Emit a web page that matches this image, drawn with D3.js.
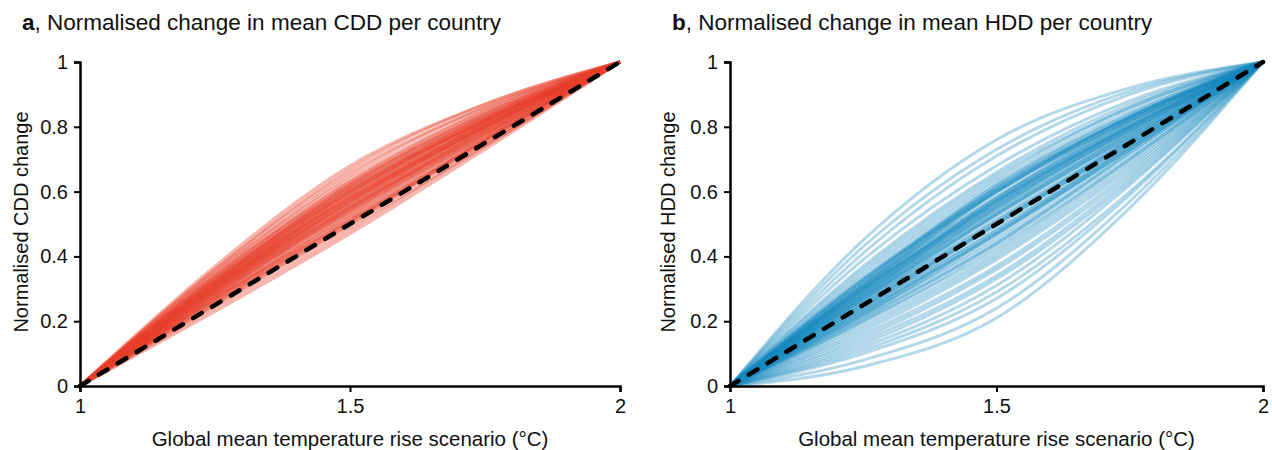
<!DOCTYPE html>
<html>
<head>
<meta charset="utf-8">
<script src="https://cdn.jsdelivr.net/npm/d3@7"></script>
<style>
  body { margin: 0; background: #fff; }
  svg text { font-family: "Liberation Sans", Arial, sans-serif; fill: #111; }
</style>
</head>
<body>
<div id="chart"></div>
<script>
// x positions (warming scenario, °C) at which each country curve is sampled
var scenarios = [1, 1.25, 1.5, 1.75, 2];
var xTicks = [1, 1.5, 2];
var yTicks = [0, 0.2, 0.4, 0.6, 0.8, 1];

// normalised CDD change per country at 1.25, 1.5, 1.75 °C (ends are always 0 and 1)
var cddCurves = [
  [0.23,0.47,0.73],[0.24,0.48,0.74],[0.25,0.49,0.74],[0.25,0.50,0.75],[0.26,0.51,0.76],
  [0.26,0.51,0.75],[0.27,0.52,0.77],[0.27,0.53,0.77],[0.28,0.54,0.78],[0.28,0.54,0.77],
  [0.29,0.55,0.79],[0.29,0.56,0.79],[0.30,0.56,0.80],[0.30,0.57,0.80],[0.30,0.57,0.81],
  [0.31,0.58,0.81],[0.31,0.58,0.80],[0.31,0.59,0.82],[0.32,0.59,0.82],[0.32,0.60,0.82],
  [0.32,0.60,0.83],[0.33,0.61,0.83],[0.33,0.61,0.82],[0.33,0.62,0.84],[0.34,0.62,0.84],
  [0.34,0.63,0.84],[0.34,0.63,0.85],[0.35,0.64,0.85],[0.35,0.65,0.86],[0.36,0.66,0.86],
  [0.36,0.67,0.87],[0.37,0.68,0.87],[0.29,0.55,0.78],[0.30,0.58,0.81],[0.31,0.57,0.80],
  [0.32,0.61,0.83],[0.28,0.53,0.78],[0.33,0.60,0.82],[0.27,0.51,0.76],[0.31,0.60,0.82],
  [0.30,0.55,0.79],[0.32,0.58,0.81],[0.29,0.57,0.80],[0.26,0.50,0.76],[0.30,0.59,0.81],
  [0.31,0.56,0.80],[0.28,0.55,0.78],[0.32,0.62,0.83],[0.29,0.54,0.79],[0.27,0.52,0.76]
];

// normalised HDD change per country at 1.25, 1.5, 1.75 °C
var hddCurves = [
  [0.45,0.76,0.92],[0.43,0.73,0.91],[0.41,0.71,0.90],[0.39,0.68,0.88],[0.37,0.66,0.87],
  [0.36,0.65,0.86],[0.35,0.64,0.86],[0.34,0.63,0.85],[0.33,0.62,0.84],[0.33,0.61,0.83],
  [0.32,0.61,0.83],[0.32,0.60,0.83],[0.31,0.60,0.82],[0.31,0.59,0.82],[0.31,0.58,0.81],
  [0.30,0.58,0.82],[0.30,0.57,0.81],[0.30,0.57,0.80],[0.29,0.57,0.80],[0.29,0.56,0.80],
  [0.29,0.55,0.79],[0.28,0.56,0.79],[0.28,0.55,0.79],[0.28,0.54,0.78],[0.27,0.54,0.78],
  [0.27,0.53,0.78],[0.27,0.53,0.77],[0.26,0.53,0.77],[0.26,0.52,0.77],[0.26,0.51,0.76],
  [0.25,0.51,0.76],[0.25,0.50,0.76],[0.25,0.50,0.75],[0.24,0.50,0.75],[0.24,0.49,0.75],
  [0.24,0.48,0.74],[0.23,0.48,0.74],[0.23,0.47,0.73],[0.23,0.47,0.74],[0.22,0.47,0.73],
  [0.22,0.46,0.73],[0.22,0.45,0.72],[0.21,0.44,0.71],[0.21,0.44,0.72],[0.20,0.43,0.70],
  [0.20,0.42,0.70],[0.19,0.41,0.69],[0.18,0.40,0.68],[0.17,0.39,0.67],[0.16,0.37,0.66],
  [0.15,0.36,0.65],[0.14,0.34,0.64],[0.13,0.33,0.63],[0.12,0.31,0.62],[0.11,0.29,0.60],
  [0.10,0.27,0.59],[0.08,0.24,0.57],[0.06,0.21,0.55],
  [0.32,0.62,0.84],[0.31,0.61,0.83],[0.30,0.60,0.82],[0.29,0.58,0.81],[0.33,0.60,0.83],
  [0.28,0.57,0.80],[0.30,0.56,0.80],[0.27,0.55,0.79]
];

var width = 1272, height = 450;

var svg = d3.select("#chart").append("svg")
  .attr("width", width)
  .attr("height", height);

var panels = [
  { letter: "a", title: ", Normalised change in mean CDD per country", ylabel: "Normalised CDD change",
    curves: cddCurves, color: "#e8402a", opacity: 0.38, left: 80, right: 620, titleX: 22, ylabelX: 21 },
  { letter: "b", title: ", Normalised change in mean HDD per country", ylabel: "Normalised HDD change",
    curves: hddCurves, color: "#1689c0", opacity: 0.33, left: 730, right: 1263, titleX: 672, ylabelX: 668 }
];

panels.forEach(function (p) {
  var x = d3.scaleLinear().domain([1, 2]).range([p.left, p.right]);
  var y = d3.scaleLinear().domain([0, 1]).range([386, 62]);

  var line = d3.line()
    .x(function (d) { return x(d[0]); })
    .y(function (d) { return y(d[1]); })
    .curve(d3.curveMonotoneX);

  var g = svg.append("g");

  // country curves
  g.selectAll("path.country")
    .data(p.curves)
    .enter().append("path")
    .attr("class", "country")
    .attr("d", function (c) {
      var vals = [0].concat(c, [1]);
      return line(scenarios.map(function (s, i) { return [s, vals[i]]; }));
    })
    .attr("fill", "none")
    .attr("stroke", p.color)
    .attr("stroke-opacity", p.opacity)
    .attr("stroke-width", 3);

  // linear reference
  g.append("path")
    .attr("d", line([[1, 0], [2, 1]]))
    .attr("fill", "none")
    .attr("stroke", "#000")
    .attr("stroke-width", 4.5)
    .attr("stroke-linecap", "round")
    .attr("stroke-dasharray", "10,12");

  // axes
  var xAxis = g.append("g")
    .attr("transform", "translate(0,386)")
    .call(d3.axisBottom(x).tickValues(xTicks).tickFormat(d3.format("")).tickSizeOuter(0).tickSize(6).tickPadding(7));
  var yAxis = g.append("g")
    .attr("transform", "translate(" + p.left + ",0)")
    .call(d3.axisLeft(y).tickValues(yTicks).tickFormat(d3.format("")).tickSizeOuter(0).tickSize(6).tickPadding(6));

  [xAxis, yAxis].forEach(function (a) {
    a.select(".domain").attr("stroke", "#000").attr("stroke-width", 2.5);
    a.selectAll(".tick line").attr("stroke", "#000").attr("stroke-width", 2);
    a.selectAll(".tick text").attr("font-size", 20).attr("fill", "#111")
      .style("font-family", "'Liberation Sans', Arial, sans-serif");
  });

  // titles
  var t = svg.append("text")
    .attr("x", p.titleX)
    .attr("y", 30)
    .attr("font-size", 22.5);
  t.append("tspan").attr("font-weight", "bold").text(p.letter);
  t.append("tspan").text(p.title);

  svg.append("text")
    .attr("transform", "translate(" + p.ylabelX + ",222) rotate(-90)")
    .attr("dy", "0.35em")
    .attr("text-anchor", "middle")
    .attr("font-size", 20)
    .text(p.ylabel);

  svg.append("text")
    .attr("x", (p.left + p.right) / 2)
    .attr("y", 446)
    .attr("text-anchor", "middle")
    .attr("font-size", 20.5)
    .text("Global mean temperature rise scenario (°C)");
});
</script>
</body>
</html>
